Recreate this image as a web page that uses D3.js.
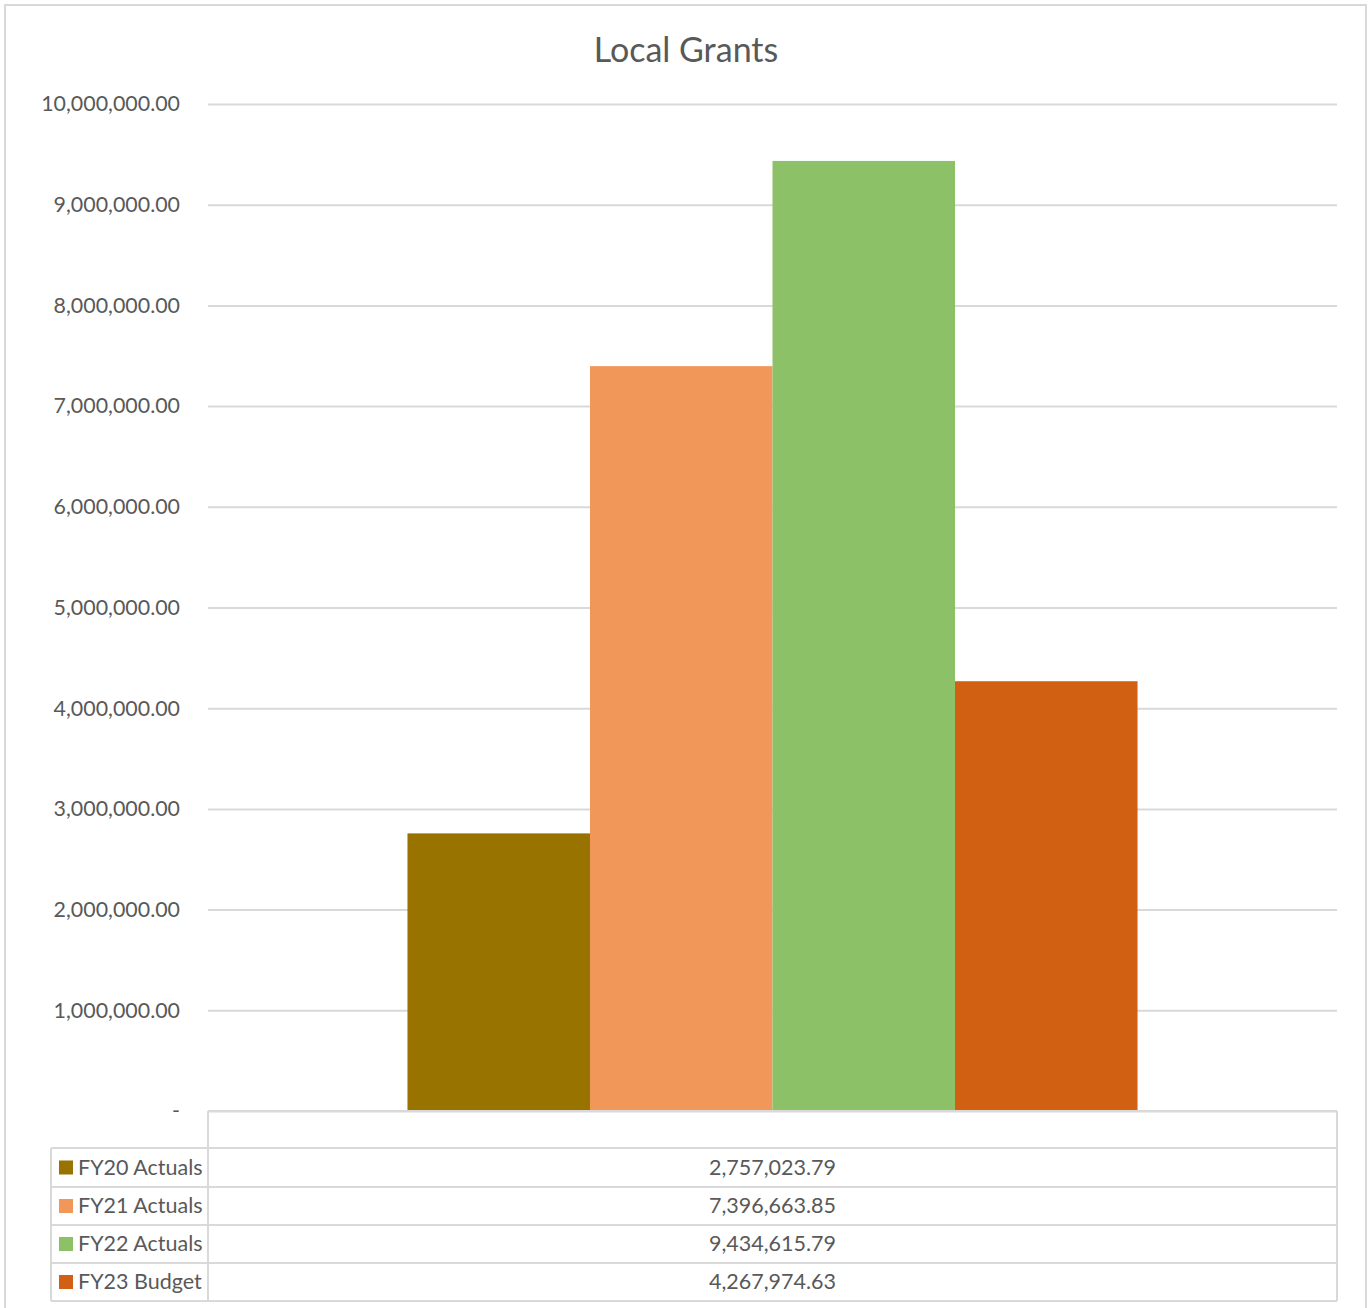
<!DOCTYPE html>
<html><head><meta charset="utf-8">
<script src="https://cdn.jsdelivr.net/npm/d3@7"></script>
<style>body{margin:0;background:#fff}text{font-family:Lato,"Open Sans",sans-serif;fill:#595959}</style>
</head><body><svg id="c" width="1371" height="1308"></svg>
<script>
const title = "Local Grants";
const categories = [""];
const seriesNames = ["FY20 Actuals","FY21 Actuals","FY22 Actuals","FY23 Budget"];
const seriesValues = [2757023.79, 7396663.85, 9434615.79, 4267974.63];
const seriesColors = ["#997300","#f1975a","#8dc168","#d26013"];
const yTicks = [0,1000000,2000000,3000000,4000000,5000000,6000000,7000000,8000000,9000000,10000000];

const svg = d3.select("#c");
const L = 208, R = 1337, T = 104, B = 1111;
const rowH = [1111,1148,1187,1225,1263,1301];
const legendLeft = 51;
const grid = "#d9d9d9";

svg.append("rect").attr("x",5).attr("y",5).attr("width",1361).attr("height",1320)
  .attr("fill","#fff").attr("stroke","#d9d9d9").attr("stroke-width",2);

svg.append("text").attr("x",686).attr("y",62).attr("text-anchor","middle")
  .style("font-size","34px").text(title);

const y = d3.scaleLinear().domain([0,10000000]).range([B,T]);
const fmt = d3.format(",.2f");

const yAxis = d3.axisLeft(y).tickValues(yTicks).tickSize(-(R-L)).tickPadding(28)
  .tickFormat(d => d === 0 ? "-" : fmt(d));
const ga = svg.append("g").attr("transform",`translate(${L},0)`).call(yAxis);
ga.select(".domain").remove();
ga.selectAll(".tick line").attr("stroke",grid).attr("stroke-width",2);
ga.selectAll(".tick text").style("font-size","21.4px").style("font-family","Lato,sans-serif").attr("fill","#595959");

const x0 = d3.scaleBand().domain(categories).range([L,R]).paddingInner(0.2146).paddingOuter(0.2146);
const x1 = d3.scaleBand().domain(seriesNames).range([0,x0.bandwidth()]).padding(0);

const data = seriesNames.map((s,i)=>({s, v:seriesValues[i], c:seriesColors[i]}));
svg.append("g").selectAll("rect").data(data).join("rect")
  .attr("x",d=>x0(categories[0])+x1(d.s)).attr("width",x1.bandwidth())
  .attr("y",d=>y(d.v)).attr("height",d=>B-y(d.v)).attr("fill",d=>d.c);

// data table
const tg = svg.append("g").attr("stroke",grid).attr("stroke-width",2).attr("fill","none");
tg.append("line").attr("x1",L).attr("x2",R).attr("y1",rowH[0]).attr("y2",rowH[0]);
for (let i=1;i<rowH.length;i++) tg.append("line").attr("x1",legendLeft).attr("x2",R).attr("y1",rowH[i]).attr("y2",rowH[i]);
tg.append("line").attr("x1",L).attr("x2",L).attr("y1",rowH[0]).attr("y2",rowH[5]);
tg.append("line").attr("x1",R).attr("x2",R).attr("y1",rowH[0]).attr("y2",rowH[5]);
tg.append("line").attr("x1",legendLeft).attr("x2",legendLeft).attr("y1",rowH[1]).attr("y2",rowH[5]);

data.forEach((d,i)=>{
  const cy = (rowH[i+1]+rowH[i+2])/2;
  svg.append("rect").attr("x",59).attr("y",cy-7).attr("width",14).attr("height",14).attr("fill",d.c);
  svg.append("text").attr("x",78).attr("y",cy+7).style("font-size","21.5px").text(d.s);
  svg.append("text").attr("x",(L+R)/2).attr("y",cy+7).attr("text-anchor","middle").style("font-size","21.5px").text(d3.format(",.2f")(d.v));
});
</script></body></html>
